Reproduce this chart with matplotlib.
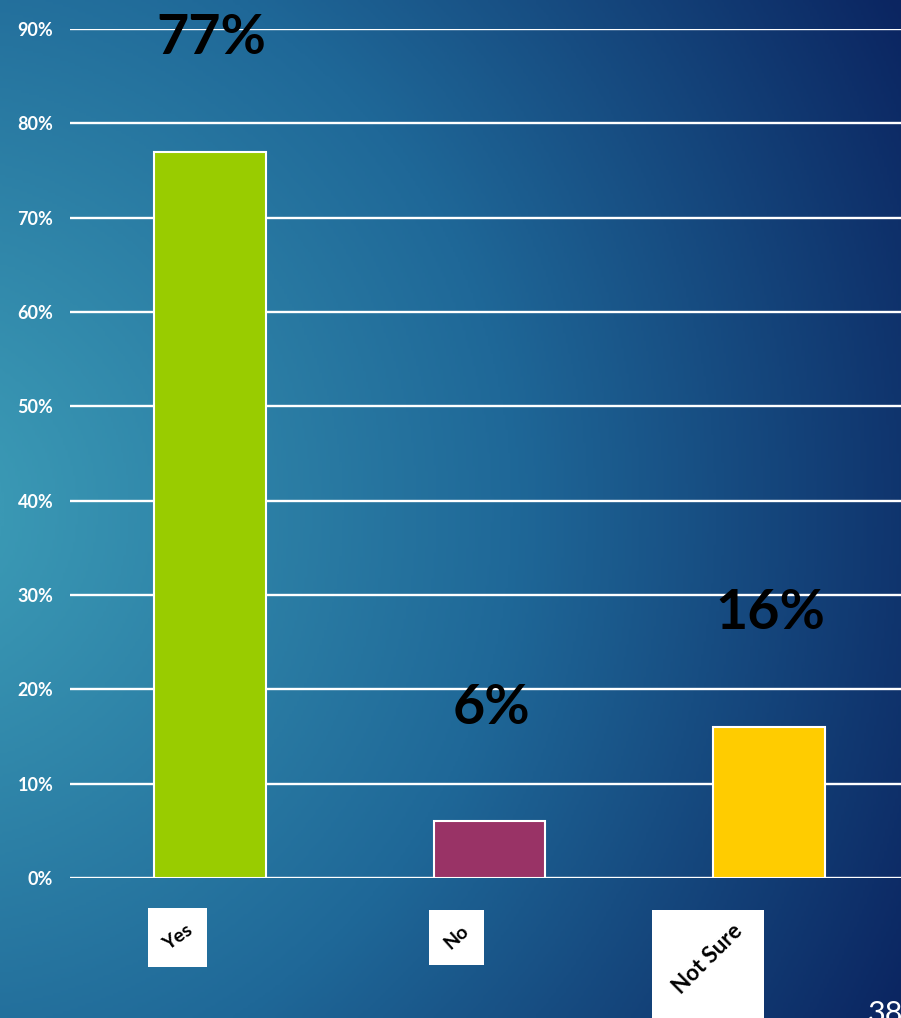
import numpy as np
import matplotlib as mpl
import matplotlib.pyplot as plt
from matplotlib.colors import LinearSegmentedColormap
from matplotlib.patches import Rectangle
import matplotlib.transforms as mtransforms

mpl.rcParams['font.family'] = ['Lato', 'DejaVu Sans']

# 数据
categories = ['Yes', 'No', 'Not Sure']
values = [0.77, 0.06, 0.16]
value_labels = ['77%', '6%', '16%']
bar_colors = ['#99cc00', '#993366', '#ffcc00']
yticks = np.arange(0, 0.91, 0.1)
ytick_labels = ['0%', '10%', '20%', '30%', '40%', '50%', '60%', '70%', '80%', '90%']

fig = plt.figure(figsize=(9.01, 10.18), dpi=100)

# 背景渐变
bg = fig.add_axes([0, 0, 1, 1], zorder=-10)
h, w = 400, 360
yy, xx = np.mgrid[0:h, 0:w]
fx = xx / (w - 1)
fy = yy / (h - 1)
d = np.sqrt((fx + 0.1) ** 2 + ((fy - 0.5) * 1.13) ** 2)
d = np.clip(d / 1.25, 0, 1)
cmap = LinearSegmentedColormap.from_list('bg', ['#3a98b4', '#1f6898', '#0b2561'])
bg.imshow(d, cmap=cmap, aspect='auto', extent=[0, 1, 0, 1], origin='upper')
bg.axis('off')

ax = fig.add_axes([70 / 901, 1 - 878 / 1018, 831 / 901, 849 / 1018])
ax.patch.set_alpha(0)
x = np.arange(len(categories))
ax.bar(x, values, width=0.4, color=bar_colors, edgecolor='white', linewidth=1.5, zorder=3)
ax.set_xlim(-0.5, 2.471)
ax.set_ylim(0, 0.9)
ax.set_yticks(yticks)
ax.set_yticklabels(ytick_labels, color='white', fontsize=13, fontweight='bold')
ax.yaxis.grid(True, color='white', linewidth=1.7, zorder=0)
ax.set_axisbelow(True)
ax.tick_params(axis='y', length=0, pad=12)
ax.set_xticks([])
for s in ax.spines.values():
    s.set_visible(False)

# 数值标签
for i, v in enumerate(values):
    ax.annotate(value_labels[i], xy=(i, v), xytext=(1, 82), textcoords='offset points',
                ha='center', va='center', fontsize=40, fontweight='bold', color='black',
                annotation_clip=False, zorder=5)

# 类别标签（白底斜体小图）
trans = mtransforms.blended_transform_factory(ax.transData, ax.transAxes)
boxes = [(-0.221, -0.1048, 0.21, 0.0695, 35, 14, 0.0),
         (-0.218, -0.1025, 0.197, 0.0648, 42, 14, 0.0),
         (-0.421, -0.17, 0.403, 0.1323, 45, 16, 0.008)]
for i, (bx, by, bw, bh, rot, fs, dy) in enumerate(boxes):
    ax.add_patch(Rectangle((i + bx, by), bw, bh, transform=trans, facecolor='white',
                           edgecolor='none', clip_on=False, zorder=4))
    ax.text(i + bx + bw / 2, by + bh / 2 + dy, categories[i],
            transform=trans, rotation=rot, ha='center', va='center', rotation_mode='anchor',
            fontsize=fs, fontweight='bold', color='black', zorder=5, clip_on=False)

fig.text(868 / 901, 1 - 1000 / 1018, '38', color='white', fontsize=22, va='top', ha='left')

fig.savefig('out.png', dpi=100)
